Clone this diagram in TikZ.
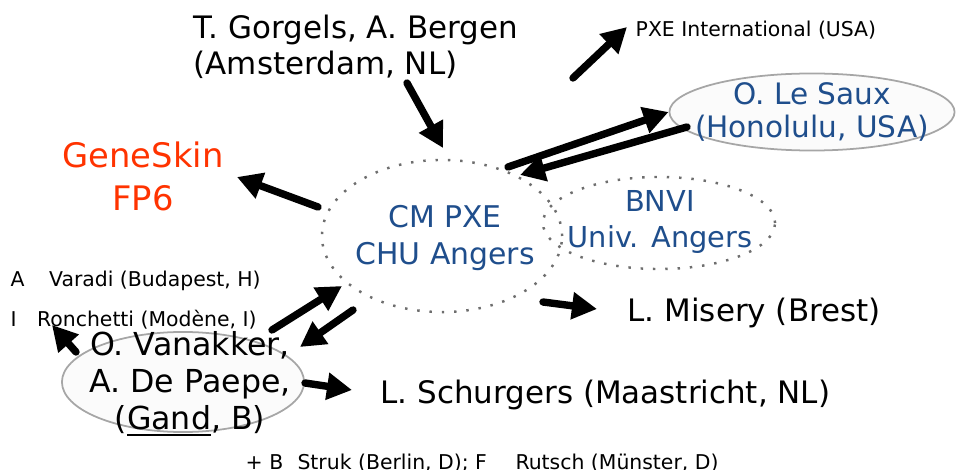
\documentclass[tikz,border=0pt]{standalone}
\usepackage{fontspec}
\setmainfont{DejaVu Sans}
\usetikzlibrary{arrows.meta, shapes.geometric, positioning}
\definecolor{pxeblue}{RGB}{31,78,140}
\definecolor{skinred}{RGB}{255,51,0}
\definecolor{dotgray}{RGB}{110,110,110}
\tikzset{
  bigarrow/.style={line width=2.1pt, line cap=round, -{Triangle[length=0.25cm,width=0.26cm]}},
  dotell/.style={ellipse, draw=dotgray, line width=0.7pt, dash pattern=on 0.7pt off 2.8pt},
  softell/.style={ellipse, draw=gray!70, line width=0.5pt, fill=gray!3},
  txtmid/.style={font=\fontsize{8.8}{10.2}\selectfont, inner sep=0pt},
  txtsmall/.style={font=\fontsize{5.8}{7}\selectfont, inner sep=0pt}
}
\begin{document}
\begin{tikzpicture}[x=0.01cm,y=-0.01cm]
\useasboundingbox (0,0) rectangle (957,470);

% ellipses
\node[dotell, minimum width=2.32cm, minimum height=0.92cm] (bnvi) at (659,223) {};
\node[dotell, minimum width=2.40cm, minimum height=1.52cm] (cmpxe) at (442,236) {};
\node[softell, minimum width=2.85cm, minimum height=0.77cm] (lesaux) at (812,112) {};
\node[softell, minimum width=2.42cm, minimum height=1.00cm] (vanakker) at (183,382) {};

% texts
\node[txtmid, anchor=west, align=left] (gorgels) at (193,47) {T. Gorgels, A. Bergen\\(Amsterdam, NL)};
\node[txtsmall, anchor=west] (pxeint) at (635,30) {PXE International (USA)};
\node[txtmid, text=pxeblue, align=center, font=\fontsize{8.4}{9.6}\selectfont] (lesauxtxt) at (lesaux) {O. Le Saux\\(Honolulu, USA)};
\node[txtmid, text=skinred, align=center, font=\fontsize{9.6}{12.2}\selectfont] (geneskin) at (143,176) {GeneSkin\\FP6};
\node[txtmid, text=pxeblue, align=center, font=\fontsize{8.5}{10.6}\selectfont] (cmpxetxt) at (445,238) {CM PXE\\CHU Angers};
\node[txtmid, text=pxeblue, align=center, font=\fontsize{8.2}{10}\selectfont] (bnvitxt) at (660,222) {BNVI\\Univ. Angers};
\node[txtmid, anchor=west] (misery) at (627,313) {L. Misery (Brest)};
\node[txtmid, anchor=west] (schurgers) at (380,395) {L. Schurgers (Maastricht, NL)};
\node[txtmid, align=center, font=\fontsize{9.0}{10.6}\selectfont] (vanakkertxt) at (190,384) {O. Vanakker,\\A. De Paepe,\\(\underline{Gand}, B)};
\node[txtsmall, anchor=west] (varadi) at (10,281) {A\hspace{1.2em}Varadi (Budapest, H)};
\node[txtsmall, anchor=west] (ronchetti) at (10,320) {I\hspace{1em}Ronchetti (Modène, I)};
\node[txtsmall, anchor=west] (struk) at (245,463) {+ B\hspace{0.7em}Struk (Berlin, D); F\hspace{1.4em}Rutsch (Münster, D)};

% arrow ends
\coordinate (gorgelsend) at (407,83); \coordinate (gorgelshead) at (443,148);
\coordinate (pxeintend) at (573,78); \coordinate (pxeinthead) at (627,27);
\coordinate (tosaux) at (508,167);
\coordinate (fromsaux) at (687,127); \coordinate (fromsauxhead) at (520,175);
\coordinate (skinend) at (318,207); \coordinate (skinhead) at (237,177);
\coordinate (miseryend) at (543,302); \coordinate (miseryhead) at (597,309);
\coordinate (schurgersend) at (305,383); \coordinate (schurgershead) at (352,390);
\coordinate (ronchettiend) at (76,352); \coordinate (ronchettihead) at (52,325);
\coordinate (upend) at (272,330); \coordinate (uphead) at (342,286);
\coordinate (downend) at (353,310); \coordinate (downhead) at (300,347);

% arrows
\draw[bigarrow] (gorgelsend) -- (gorgelshead);
\draw[bigarrow] (pxeintend) -- (pxeinthead);
\draw[bigarrow] (tosaux) -- (lesaux.west);
\draw[bigarrow] (fromsaux) -- (fromsauxhead);
\draw[bigarrow] (skinend) -- (skinhead);
\draw[bigarrow] (miseryend) -- (miseryhead);
\draw[bigarrow] (schurgersend) -- (schurgershead);
\draw[bigarrow] (ronchettiend) -- (ronchettihead);
\draw[bigarrow] (upend) -- (uphead);
\draw[bigarrow] (downend) -- (downhead);
\end{tikzpicture}
\end{document}
